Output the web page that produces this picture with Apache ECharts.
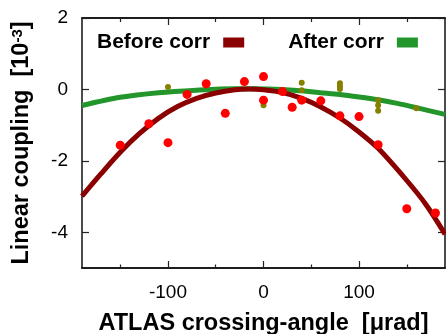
<!DOCTYPE html>
<html>
<head>
<meta charset="utf-8">
<script src="https://cdn.jsdelivr.net/npm/echarts@6/dist/echarts.min.js"></script>
<style>html,body{margin:0;padding:0;background:#fff;}#c{width:446px;height:334px;}</style>
</head>
<body>
<div id="c"></div>
<script>
// Measured points
var beforeX = [-150,-120,-100,-80,-60,-40,-20,0,0,20,30,40,60,80,100,120,150,180];
var beforeY = [-1.56,-0.96,-1.49,-0.14,0.16,-0.67,0.22,0.36,-0.30,-0.06,-0.50,-0.30,-0.32,-0.74,-0.76,-1.55,-3.34,-3.46];
var afterX = [-100,0,40,40,80,80,80,120,120,120,160];
var afterY = [0.07,-0.44,0.19,-0.02,0.17,0.09,0.01,-0.30,-0.44,-0.60,-0.53];
// Fit curves
var beforeFitX = [-190,-170,-150,-130,-110,-90,-70,-50,-30,-15,0,20,40,60,80,100,120,150,170,190];
var beforeFitY = [-2.99,-2.36,-1.76,-1.24,-0.81,-0.48,-0.25,-0.10,-0.01,0.01,-0.01,-0.09,-0.25,-0.49,-0.80,-1.19,-1.65,-2.55,-3.22,-4.05];
var afterFitX = [-190,-150,-110,-70,-30,-10,20,40,60,80,100,120,140,160,190];
var afterFitY = [-0.45,-0.22,-0.09,-0.02,0.02,0.02,0.00,-0.04,-0.09,-0.14,-0.21,-0.29,-0.39,-0.51,-0.70];
// Ticks
var xMajorTicks = [-100,0,100];
var xMinorTicks = [-150,-50,50,150];
var yTicks = [-4,-2,0,2];

function pairs(xs, ys){ return xs.map(function(x,i){ return [x, ys[i]]; }); }

var FONT = 'Liberation Sans, Arial, Helvetica, sans-serif';
var chart = echarts.init(document.getElementById('c'), null, {renderer:'canvas'});

function xAx(pos, ticks, len, labels, name){
  var a = {
    type:'value', min:-190, max:190, position:pos,
    axisLine:{show:true, onZero:false, lineStyle:{color:'#111', width:1.5}},
    axisTick:{show:true, inside:true, length:len, customValues:ticks, lineStyle:{color:'#222', width:1.2}},
    axisLabel:{show:labels, customValues:xMajorTicks, color:'#000', fontSize:19, fontFamily:FONT, margin:15},
    splitLine:{show:false}
  };
  if (name){
    a.name = name; a.nameLocation = 'middle'; a.nameGap = 44;
    a.nameTextStyle = {color:'#000', fontSize:23.5, fontWeight:'bold', fontFamily:FONT};
  }
  return a;
}

var option = {
  animation:false,
  backgroundColor:'#fff',
  grid:{left:82, right:1, top:18, bottom:66, containLabel:false, outerBoundsMode:'none'},
  legend:{
    data:['Before corr','After corr'],
    left:97, top:32, padding:0,
    align:'right', icon:'rect', itemWidth:21, itemHeight:10, itemGap:44,
    textStyle:{color:'#000', fontSize:21, fontWeight:'bold', fontFamily:FONT, padding:[0,8,0,0]}
  },
  xAxis:[
    xAx('bottom', xMajorTicks, 7, true, 'ATLAS crossing-angle  [\u03bcrad]'),
    xAx('bottom', xMinorTicks, 3.5, false),
    xAx('top', xMajorTicks, 7, false),
    xAx('top', xMinorTicks, 4, false)
  ],
  yAxis:[
    {
      type:'value', min:-5, max:2, position:'left',
      axisLine:{show:true, onZero:false, lineStyle:{color:'#111', width:1.5}},
      axisTick:{show:true, inside:true, length:7, customValues:yTicks, lineStyle:{color:'#222', width:1.2}},
      axisLabel:{customValues:yTicks, color:'#000', fontSize:19, fontFamily:FONT, margin:14},
      splitLine:{show:false},
      name:'{a|Linear coupling  [10}{b|-3}{a|]}',
      nameLocation:'middle', nameGap:48,
      nameTextStyle:{
        color:'#000', fontFamily:FONT,
        rich:{
          a:{fontSize:23.5, fontWeight:'bold', fontFamily:FONT, color:'#000'},
          b:{fontSize:15, fontWeight:'bold', fontFamily:FONT, color:'#000', verticalAlign:'top', padding:[0,0,8,0]}
        }
      }
    },
    {
      type:'value', min:-5, max:2, position:'right',
      axisLine:{show:true, onZero:false, lineStyle:{color:'#111', width:1.5}},
      axisTick:{show:true, inside:true, length:7, customValues:yTicks, lineStyle:{color:'#222', width:1.2}},
      axisLabel:{show:false},
      splitLine:{show:false}
    }
  ],
  series:[
    {
      name:'After corr', type:'line', xAxisIndex:0, yAxisIndex:0,
      data:pairs(afterFitX, afterFitY), smooth:0.3, showSymbol:false, symbol:'none',
      lineStyle:{color:'#22962a', width:5}, itemStyle:{color:'#22962a'}, z:2
    },
    {
      name:'Before corr', type:'line', xAxisIndex:0, yAxisIndex:0,
      data:pairs(beforeFitX, beforeFitY), smooth:0.3, showSymbol:false, symbol:'none',
      lineStyle:{color:'#8b0000', width:5}, itemStyle:{color:'#8b0000'}, z:3
    },
    {
      name:'after points', type:'scatter', xAxisIndex:0, yAxisIndex:0,
      data:pairs(afterX, afterY), symbol:'circle', symbolSize:6,
      itemStyle:{color:'#858000', opacity:1}, z:4
    },
    {
      name:'before points', type:'scatter', xAxisIndex:0, yAxisIndex:0,
      data:pairs(beforeX, beforeY), symbol:'circle', symbolSize:9,
      itemStyle:{color:'#ff0000', opacity:1}, z:5
    }
  ]
};
chart.setOption(option);
</script>
</body>
</html>
